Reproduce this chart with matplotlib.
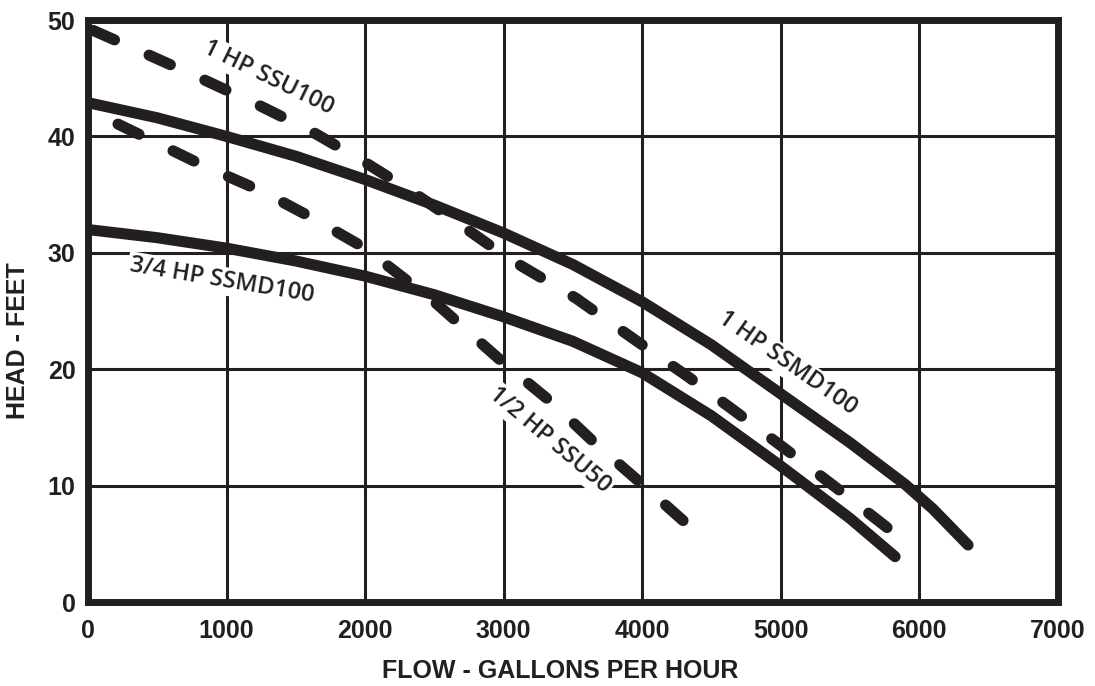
import matplotlib
matplotlib.use('Agg')
import matplotlib.pyplot as plt
import numpy as np

# pump curves (flow gph, head ft)
ssmd100_1hp_x = [0, 500, 1000, 1500, 2000, 2500, 3000, 3500, 4000, 4500, 5000, 5500, 5900, 6100, 6354]
ssmd100_1hp_y = [42.9, 41.6, 40.0, 38.3, 36.3, 34.1, 31.7, 29.0, 25.8, 22.1, 17.9, 13.7, 10.1, 8.0, 4.9]

ssmd100_34hp_x = [0, 500, 1000, 1500, 2000, 2500, 3000, 3500, 4000, 4500, 5000, 5500, 5827]
ssmd100_34hp_y = [32.0, 31.3, 30.4, 29.3, 28.0, 26.4, 24.5, 22.4, 19.7, 16.0, 11.7, 7.2, 3.9]

ssu100_1hp_x = [0, 400, 831, 1230, 1619, 1996, 2346, 2667, 3025, 3523, 3964, 4339, 4693, 5040, 5393, 5769]
ssu100_1hp_y = [49.3, 47.2, 44.9, 42.7, 40.4, 37.8, 35.2, 32.6, 29.6, 26.1, 22.4, 19.3, 16.2, 13.1, 9.9, 6.4]

ssu50_12hp_x = [0, 435, 831, 1271, 1619, 2000, 2500, 3004, 3343, 3646, 3964, 4296]
ssu50_12hp_y = [42.3, 39.8, 37.5, 35.2, 33.0, 30.4, 25.8, 20.5, 17.2, 13.8, 10.5, 7.0]

x_ticks = [0, 1000, 2000, 3000, 4000, 5000, 6000, 7000]
y_ticks = [0, 10, 20, 30, 40, 50]

ink = '#231f20'

fig = plt.figure(figsize=(10.95, 6.86), dpi=100)
ax = fig.add_axes([0.0804, 0.1224, 0.8854, 0.8484])
ax.set_xlim(0, 7000)
ax.set_ylim(0, 50)

lw = 8
on, off = 2.1, 3.4


def end_on_dash(xs, ys):
    # pick the dash offset so the line finishes with a whole dash
    pts = ax.transData.transform(np.column_stack([xs, ys])) * 72 / fig.dpi
    length = np.sum(np.hypot(*np.diff(pts, axis=0).T))
    period = (on + off) * lw
    return ((on * lw - length) % period) / lw


ax.plot(ssmd100_1hp_x, ssmd100_1hp_y, color=ink, lw=lw, solid_capstyle='round',
        solid_joinstyle='round', zorder=3)
ax.plot(ssmd100_34hp_x, ssmd100_34hp_y, color=ink, lw=lw, solid_capstyle='round',
        solid_joinstyle='round', zorder=3)
ax.plot(ssu100_1hp_x, ssu100_1hp_y, color=ink, lw=lw,
        ls=(end_on_dash(ssu100_1hp_x, ssu100_1hp_y), (on, off)), dash_capstyle='round', zorder=3)
ax.plot(ssu50_12hp_x, ssu50_12hp_y, color=ink, lw=lw,
        ls=(end_on_dash(ssu50_12hp_x, ssu50_12hp_y), (on, off)), dash_capstyle='round', zorder=3)

ax.set_xticks(x_ticks)
ax.set_yticks(y_ticks)
ax.grid(True, color=ink, lw=2.2, zorder=1)
ax.set_axisbelow(True)
for s in ax.spines.values():
    s.set_linewidth(5)
    s.set_color(ink)
    s.set_zorder(4)
ax.tick_params(length=0, labelsize=18, colors=ink)
ax.tick_params(axis='x', pad=12)
ax.tick_params(axis='y', pad=9)
for lab in ax.get_xticklabels() + ax.get_yticklabels():
    lab.set_fontfamily('Liberation Sans')
    lab.set_fontweight('bold')

# axis titles
fig.text(0.512, 0.022, 'FLOW - GALLONS PER HOUR', fontsize=18, fontweight='bold',
         family='Liberation Sans', color=ink, ha='center', va='center')
fig.text(0.0165, 0.503, 'HEAD - FEET', fontsize=18, fontweight='bold', rotation=90,
         family='Liberation Sans', color=ink, ha='center', va='center')

# curve names, white box hides grid behind them
box = dict(facecolor='white', edgecolor='none', pad=1.5)
labels = [
    ('1 HP SSU100', 1300, 45.0, -26),
    ('3/4 HP SSMD100', 967, 27.6, -9.5),
    ('1 HP SSMD100', 5047, 20.5, -35),
    ('1/2 HP SSU50', 3336, 13.9, -40),
]
for txt, x, y, rot in labels:
    ax.text(x, y, txt, rotation=rot, rotation_mode='anchor', ha='center', va='center',
            fontsize=17, fontweight=600, family='Open Sans', color=ink, bbox=box, zorder=2)

fig.savefig('out.png', dpi=100)
